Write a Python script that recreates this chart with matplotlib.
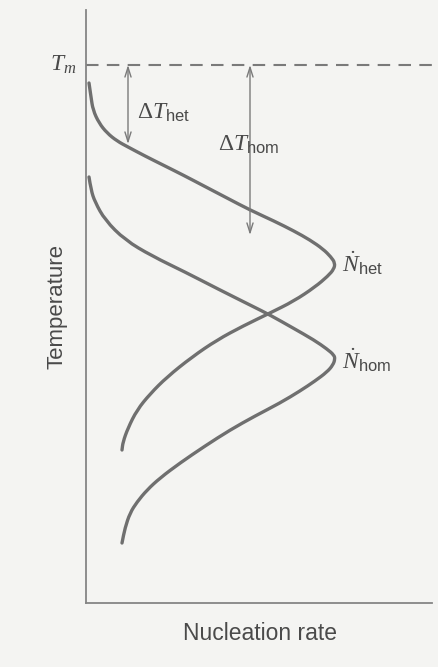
import matplotlib
matplotlib.use("Agg")
import matplotlib.pyplot as plt
from matplotlib.path import Path
import matplotlib.patches as patches

plt.rcParams['mathtext.fontset'] = 'custom'
plt.rcParams['mathtext.rm'] = 'Liberation Serif'
plt.rcParams['mathtext.it'] = 'Liberation Serif:italic'
plt.rcParams['mathtext.sf'] = 'Liberation Sans'
plt.rcParams['font.family'] = ['Liberation Sans', 'DejaVu Sans']

# heterogeneous nucleation rate vs temperature (arbitrary units)
het_rate = [3, 5, 7, 13, 21, 31, 42, 59, 77, 97, 118, 141, 164, 188, 208, 224, 237, 245, 249,
            248, 242, 229, 208, 184, 157, 131, 106, 81, 64, 51, 42, 37, 36]
het_temp = [520, 506, 493, 480, 470, 462, 456, 447, 438, 428, 417, 405, 393, 382, 372, 363, 354, 346, 340,
            334, 327, 316, 302, 290, 277, 263, 246, 226, 209, 193, 175, 161, 153]

# homogeneous nucleation rate vs temperature
hom_rate = [3, 5, 9, 19, 39, 66, 99, 132, 166, 184, 207, 228, 241, 248, 249,
            247, 241, 229, 214, 194, 169, 144, 119, 94, 74, 61, 51, 44, 39, 36]
hom_temp = [426, 413, 401, 383, 363, 347, 331, 314, 297, 288, 275, 263, 254, 248, 244,
            238, 231, 222, 212, 200, 187, 173, 157, 140, 125, 113, 101, 90, 75, 60]

T_melt = 538
dT_het_end = 459   # where the het undercooling arrow stops
dT_hom_end = 368
x_max, y_max = 346, 593

line_c = '#6f6f6f'
text_c = '#4a4a4a'


def smooth_path(xs, ys):
    # quadratic bezier through the midpoints, points used as control points
    pts = list(zip(xs, ys))
    verts = [pts[0]]
    codes = [Path.MOVETO]
    for i in range(1, len(pts) - 1):
        mid = ((pts[i][0] + pts[i + 1][0]) / 2, (pts[i][1] + pts[i + 1][1]) / 2)
        verts += [pts[i], mid]
        codes += [Path.CURVE3, Path.CURVE3]
    verts.append(pts[-1])
    codes.append(Path.LINETO)
    return Path(verts, codes)


fig = plt.figure(figsize=(4.39, 6.67), dpi=100, facecolor='#f4f4f2')
ax = fig.add_axes([86 / 439, 64 / 667, 346 / 439, 593 / 667])
ax.set_facecolor('none')
ax.set_xlim(0, x_max)
ax.set_ylim(0, y_max)
for s in ['top', 'right']:
    ax.spines[s].set_visible(False)
for s in ['left', 'bottom']:
    ax.spines[s].set_color('#858585')
    ax.spines[s].set_linewidth(1.3)
ax.set_xticks([])
ax.set_yticks([])

for xs, ys in [(het_rate, het_temp), (hom_rate, hom_temp)]:
    ax.add_patch(patches.PathPatch(smooth_path(xs, ys), fill=False, edgecolor=line_c,
                                   lw=2.4, capstyle='round', joinstyle='round'))

# melting temperature
ax.axhline(T_melt, color='#7a7a7a', lw=1.5, ls=(0, (6, 4)))

arrow = dict(arrowstyle='<->,head_length=0.7,head_width=0.22', lw=1.0, color='#7a7a7a',
             shrinkA=0, shrinkB=0)
ax.annotate('', xy=(42, dT_het_end), xytext=(42, T_melt), arrowprops=arrow)
ax.annotate('', xy=(164, dT_hom_end), xytext=(164, T_melt), arrowprops=arrow)

ax.text(-10, T_melt, r'$T_m$', fontsize=17, color=text_c, ha='right', va='center', clip_on=False)
ax.text(51, 490, r'$\Delta T_{\mathsf{het}}$', fontsize=17, color=text_c, ha='left', va='center')
ax.text(132, 458, r'$\Delta T_{\mathsf{hom}}$', fontsize=17, color=text_c, ha='left', va='center')
ax.text(256, 340, r'$\dot{N}_{\mathsf{het}}$', fontsize=17, color=text_c, ha='left', va='center')
ax.text(256, 243, r'$\dot{N}_{\mathsf{hom}}$', fontsize=17, color=text_c, ha='left', va='center')

ax.text(-0.084, 0.5, 'Temperature', fontsize=16, color=text_c, rotation=90,
        ha='center', va='center', transform=ax.transAxes)
ax.text(0.503, -0.051, 'Nucleation rate', fontsize=16.5, color=text_c,
        ha='center', va='center', transform=ax.transAxes)

fig.savefig('out.png', dpi=100, facecolor=fig.get_facecolor())
